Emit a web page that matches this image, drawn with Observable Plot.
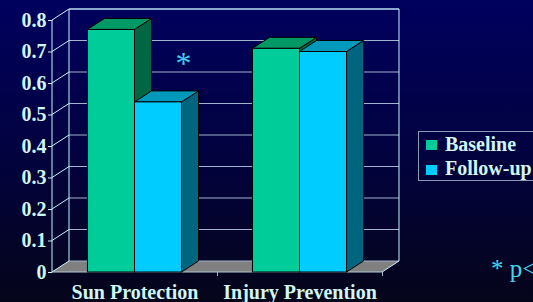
<!DOCTYPE html>
<html>
<head>
<meta charset="utf-8">
<script src="https://cdn.jsdelivr.net/npm/d3@7"></script>
<script src="https://cdn.jsdelivr.net/npm/@observablehq/plot@0.6"></script>
<style>
  html, body { margin: 0; padding: 0; overflow: hidden; }
  #wrap {
    position: relative; width: 533px; height: 302px; overflow: hidden;
    background: linear-gradient(180deg, #00005e 0%, #020240 50%, #05051a 100%);
    font-family: "Liberation Serif", "Times New Roman", serif;
  }
  #chart { position: absolute; left: 0; top: 0; }
  .legend {
    position: absolute; left: 418px; top: 131px; width: 140px; height: 48px;
    border: 1px solid #8a9ab0;
  }
  .legend .sw { position: absolute; left: 7px; width: 11px; height: 10px; }
  .legend .lt {
    position: absolute; left: 26px; font-size: 20px; line-height: 20px;
    font-weight: bold; color: #d0f6f6; white-space: nowrap;
  }
  .foot {
    position: absolute; left: 491px; top: 256px; font-size: 25px; line-height: 25px;
    color: #40d8e8; white-space: nowrap;
  }
</style>
</head>
<body>
<div id="wrap">
  <div id="chart"></div>
  <div class="legend" id="legend"></div>
  <div class="foot" id="foot"></div>
</div>
<script>
// ---------- data ----------
const categories = ["Sun Protection", "Injury Prevention"];
const seriesNames = ["Baseline", "Follow-up"];
const baselineValues = [0.77, 0.71];
const followUpValues = [0.54, 0.70];
const significance = ["*", ""];
const yTicks = [0, 0.1, 0.2, 0.3, 0.4, 0.5, 0.6, 0.7, 0.8];
const yTickLabels = ["0", "0.1", "0.2", "0.3", "0.4", "0.5", "0.6", "0.7", "0.8"];
const footnote = "* p<0.05";

// ---------- styles ----------
const frontColor = {"Baseline": "#00cc99", "Follow-up": "#00ccff"};
const topColor   = {"Baseline": "#009966", "Follow-up": "#0099bb"};
const sideColor  = {"Baseline": "#006644", "Follow-up": "#006680"};
const DX = 17, DY = -11;          // 3D depth offset in pixels
const BAR_W = 0.285;              // bar width in category units
const WALL = "#c4f4ff", GRID = "#a0b4d0", TEXT = "#d0f6f6";
const FONT = "Liberation Serif, Times New Roman, serif";

const rows = categories.flatMap((c, i) => [
  {cat: c, i, s: 0, series: seriesNames[0], value: baselineValues[i]},
  {cat: c, i, s: 1, series: seriesNames[1], value: followUpValues[i]}
]);
const bx1 = d => d.i + 0.5 - BAR_W + d.s * BAR_W;
const bx2 = d => bx1(d) + BAR_W;
const sigRows = categories.map((c, i) => ({i, label: significance[i], value: followUpValues[i]}))
  .filter(d => d.label);

function poly(g, pts, fill, stroke) {
  g.append("path")
    .attr("d", "M" + pts.map(p => p.join(",")).join("L") + "Z")
    .attr("fill", fill).attr("stroke", stroke || "none").attr("stroke-width", 1)
    .attr("stroke-linejoin", "round");
}
function line(g, x1, y1, x2, y2, stroke) {
  g.append("line").attr("x1", x1).attr("y1", y1).attr("x2", x2).attr("y2", y2)
    .attr("stroke", stroke).attr("stroke-width", 1);
}

// background walls, floor and grid drawn from the plot's scales
function scene(index, scales) {
  const x = scales.x, y = scales.y;
  const g = d3.create("svg:g");
  const X0 = x(0), X1 = x(2), Y0 = y(0), YT = y(yTicks[yTicks.length - 1]);
  poly(g, [[X0, Y0], [X1, Y0], [X1 + DX, Y0 + DY], [X0 + DX, Y0 + DY]], "#808080");
  for (const v of yTicks) {
    line(g, X0 + DX, y(v) + DY, X1 + DX, y(v) + DY, GRID);
    line(g, X0, y(v), X0 + DX, y(v) + DY, WALL);
  }
  line(g, X0 + DX, YT + DY, X1 + DX, YT + DY, WALL);
  line(g, X0 + DX, YT + DY, X0 + DX, Y0 + DY, WALL);
  line(g, X1 + DX, YT + DY, X1 + DX, Y0 + DY, WALL);
  line(g, X0, YT, X0, Y0, WALL);
  line(g, X0, Y0, X1, Y0, "#b0c8d0");
  line(g, X1, Y0, X1 + DX, Y0 + DY, WALL);
  return g.node();
}

// side and top faces of the 3D bars
function barDepth(index, scales) {
  const x = scales.x, y = scales.y;
  const g = d3.create("svg:g");
  for (const d of rows) {
    const xa = x(bx2(d)), yb = y(0), yt = y(d.value);
    poly(g, [[xa, yt], [xa + DX, yt + DY], [xa + DX, yb + DY], [xa, yb]], sideColor[d.series], "#000");
  }
  for (const d of rows) {
    const xa = x(bx1(d)), xb = x(bx2(d)), yt = y(d.value);
    poly(g, [[xa, yt], [xb, yt], [xb + DX, yt + DY], [xa + DX, yt + DY]], topColor[d.series], "#000");
  }
  return g.node();
}

const chart = Plot.plot({
  width: 533, height: 302,
  marginLeft: 52, marginRight: 151, marginTop: 20, marginBottom: 30,
  x: {type: "linear", domain: [0, 2]},
  y: {domain: [0, 0.8]},
  style: {background: "transparent", color: TEXT, fontFamily: FONT},
  marks: [
    scene,
    barDepth,
    Plot.rectY(rows, {x1: bx1, x2: bx2, y: "value", fill: d => frontColor[d.series], stroke: "#000", strokeWidth: 1}),
    Plot.axisY(yTicks, {tickFormat: (d, i) => yTickLabels[i], tickSize: 4, tickPadding: 2,
      fontSize: 20, fontWeight: "bold", fontFamily: FONT, color: TEXT, label: null}),
    Plot.axisX([0.5, 1.5], {tickFormat: (d, i) => categories[i], tickSize: 0, tickPadding: 12,
      fontSize: 20, fontWeight: "bold", fontFamily: FONT, color: TEXT, label: null}),
    Plot.axisX([1, 2], {tickFormat: () => "", tickSize: 4, tickPadding: 0, color: "#a8b8c8", label: null}),
    Plot.text(sigRows, {x: d => d.i + 0.5 + BAR_W / 2, y: "value", text: "label", dx: 25, dy: -28,
      lineAnchor: "bottom", fontSize: 32, fontFamily: FONT, fill: "#40d0f0"})
  ]
});
document.getElementById("chart").appendChild(chart);

// legend
const legend = document.getElementById("legend");
seriesNames.forEach((name, k) => {
  const sw = document.createElement("div");
  sw.className = "sw";
  sw.style.top = (8 + 25 * k) + "px";
  sw.style.background = frontColor[name];
  legend.appendChild(sw);
  const t = document.createElement("div");
  t.className = "lt";
  t.style.top = (2 + 24 * k) + "px";
  t.textContent = name;
  legend.appendChild(t);
});
document.getElementById("foot").textContent = footnote;
</script>
</body>
</html>
